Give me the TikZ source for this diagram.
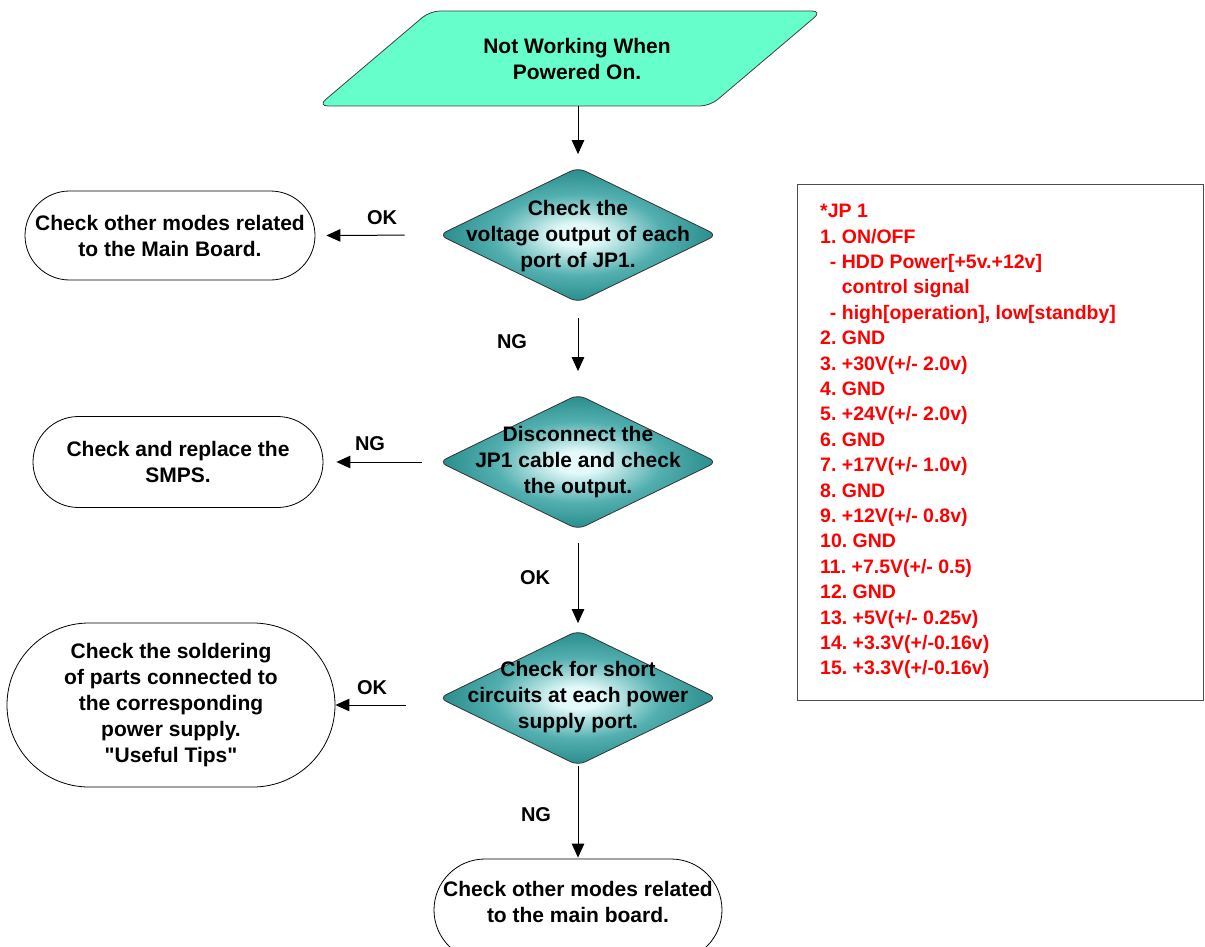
\documentclass[tikz,border=0pt]{standalone}
\usepackage{fontspec}
\setmainfont{Liberation Sans}[Ligatures=TeXOff]
\usetikzlibrary{shapes.geometric,arrows.meta}
\definecolor{paracol}{HTML}{66FFCC}
\definecolor{dcen}{RGB}{228,250,250}
\definecolor{dmid}{RGB}{84,176,176}
\definecolor{dout}{RGB}{22,124,124}
\definecolor{redtxt}{HTML}{FF0000}
\pgfdeclareradialshading{diashade}{\pgfpoint{0bp}{0bp}}{color(0bp)=(dcen); color(4bp)=(dcen); color(15bp)=(dmid); color(29bp)=(dout); color(50bp)=(dout)}
\begin{document}
\frenchspacing
\begin{tikzpicture}[x=1pt,y=-1pt,
 every node/.style={font=\fontsize{21}{26}\selectfont\bfseries, align=center, inner sep=0pt},
 dia/.style={diamond, draw=black!80, line width=0.8pt, shade, shading=diashade, minimum width=278pt, minimum height=135pt, rounded corners=8pt},
 stad/.style={draw=black, line width=0.8pt, fill=white, rounded corners=#1},
 arr/.style={line width=1pt, -{Triangle[length=14pt,width=12.5pt]}},
 lab/.style={font=\fontsize{20}{24}\selectfont\bfseries}
]
\useasboundingbox (0,0) rectangle (1205,947);

% start parallelogram
\draw[fill=paracol, draw=black!75, line width=0.8pt, rounded corners=10pt]
  (430,11) -- (822,11) -- (710,106) -- (318,106) -- cycle;
\node (start) at (577,58.5) {Not Working When\\Powered On.};
\coordinate (pbot) at (578,106);

% decisions
\node[dia] (d1) at (578,235) {};
\node (t1) at (578,236) {Check the\\voltage output of each\\port of JP1.};
\node[dia] (d2) at (578,462) {};
\node (t2) at (d2) {Disconnect the\\JP1 cable and check\\the output.};
\node[dia] (d3) at (578,698) {};
\node (t3) at (578,697) {Check for short\\circuits at each power\\supply port.};

% terminal boxes
\node[stad=44.5pt, minimum width=290pt, minimum height=89pt] (b1) at (170,235.5) {Check other modes related\\to the Main Board.};
\node[stad=45.5pt, minimum width=290pt, minimum height=91pt] (b2) at (178,462) {Check and replace the\\SMPS.};
\node[stad=82pt, minimum width=328pt, minimum height=164pt] (b3) at (171,705) {Check the soldering\\of parts connected to\\the corresponding\\power supply.\\"Useful Tips"};
\node[stad=51pt, minimum width=288pt, minimum height=102pt] (b4) at (578,910) {};
\node (t4) at (578,902) {Check other modes related\\to the main board.};

% JP1 note box
\node[draw=black!70, line width=1pt, minimum width=406pt, minimum height=516pt, anchor=north west] (jp) at (797,184) {};
\node[anchor=north west, align=left, text=redtxt, font=\fontsize{19.5}{25.4}\selectfont\bfseries] (jpt) at (820,204)
 {*JP 1\\
  1. ON/OFF\\
  \hphantom{1. }\llap{- }HDD Power[+5v.+12v]\\
  \hphantom{1. }control signal\\
  \hphantom{1. }\llap{- }high[operation], low[standby]\\
  2. GND\\
  3. +30V(+/- 2.0v)\\
  4. GND\\
  5. +24V(+/- 2.0v)\\
  6. GND\\
  7. +17V(+/- 1.0v)\\
  8. GND\\
  9. +12V(+/- 0.8v)\\
  10. GND\\
  11. +7.5V(+/- 0.5)\\
  12. GND\\
  13. +5V(+/- 0.25v)\\
  14. +3.3V(+/-0.16v)\\
  15. +3.3V(+/-0.16v)};

% connectors
\draw[arr, shorten >=13pt] (pbot) -- (d1.north);
\draw[arr, shorten <=15pt, shorten >=23pt] (d1.south) -- (d2.north);
\draw[arr, shorten <=13pt, shorten >=7pt] (d2.south) -- (d3.north);
\draw[arr, shorten >=1pt] (d3.south) -- (b4.north);
\draw[arr, shorten <=34pt, shorten >=11pt] (d1.west) -- (b1.east);
\draw[arr, shorten <=17pt, shorten >=13pt] (d2.west) -- (b2.east);
\draw[arr, shorten <=33pt] (d3.west |- b3.east) -- (b3.east);

% labels
\node[lab] (ok1) at (382,218) {OK};
\node[lab] (ng1) at (512,342) {NG};
\node[lab] (ng2) at (370,444) {NG};
\node[lab] (ok2) at (535,578) {OK};
\node[lab] (ok3) at (372,688) {OK};
\node[lab] (ng3) at (536,815) {NG};
\end{tikzpicture}
\end{document}
